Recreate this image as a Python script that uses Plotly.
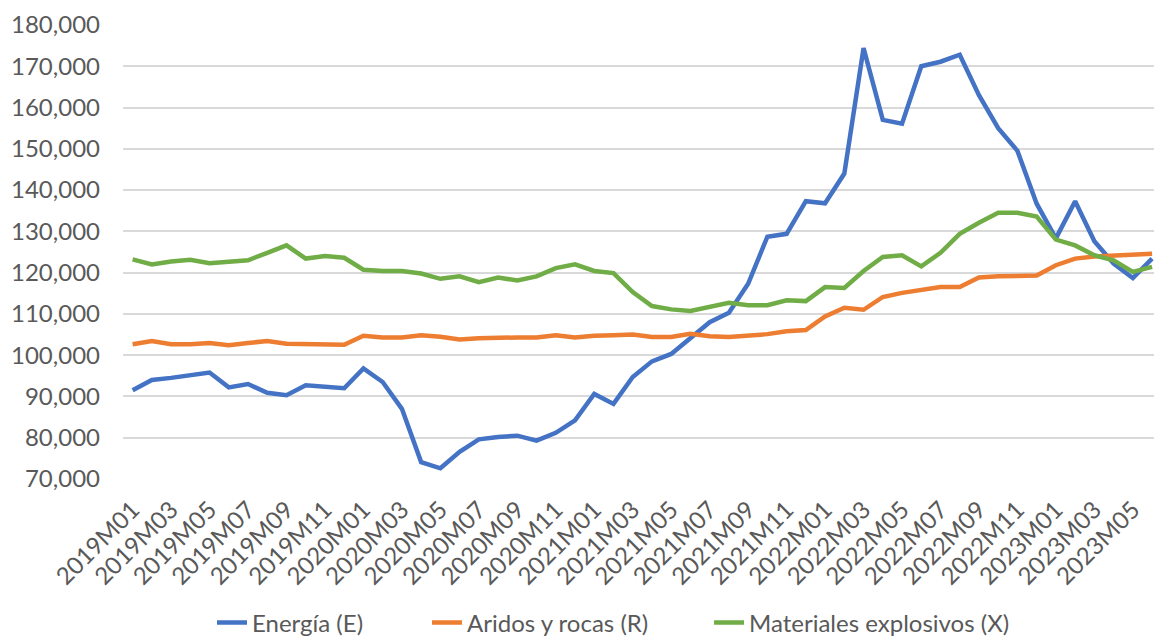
import plotly.graph_objects as go

years = [2019, 2020, 2021, 2022, 2023]
periods = [f"{y}M{m:02d}" for y in years for m in range(1, 13)][:54]

energia = [91500, 94000, 94500, 95200, 95800, 92200, 93000, 90900, 90300, 92700,
           92300, 92000, 96800, 93500, 87000, 74100, 72600, 76600, 79600, 80200,
           80500, 79300, 81200, 84200, 90600, 88200, 94700, 98500, 100300, 104000,
           108000, 110300, 117300, 128700, 129400, 137300, 136800, 144000, 174400, 157000,
           156100, 170000, 171100, 172800, 163000, 155000, 149500, 136700, 128300, 137300,
           127600, 122200, 118700, 123400]

aridos = [102650, 103450, 102650, 102650, 102950, 102400, 102950, 103450, 102800, 102650,
          102650, 102500, 104700, 104300, 104300, 104850, 104450, 103800, 104100, 104300,
          104300, 104300, 104850, 104300, 104700, 104800, 105000, 104400, 104400, 105200,
          104600, 104400, 104700, 105100, 105800, 106100, 109400, 111500, 111000, 114100,
          115100, 115900, 116500, 116500, 118800, 119100, 119100, 119300, 121800, 123400,
          123900, 124100, 124200, 124600]

explosivos = [123200, 122000, 122700, 123100, 122300, 122600, 123000, 124800, 126600, 123400,
              124000, 123600, 120700, 120400, 120400, 119800, 118500, 119100, 117700, 118800,
              118100, 119100, 121100, 122000, 120400, 119900, 115300, 111900, 111100, 110700,
              111700, 112700, 112100, 112100, 113300, 113100, 116500, 116300, 120400, 123800,
              124200, 121500, 124800, 129400, 132100, 134500, 134500, 133600, 128000, 126600,
              124200, 123000, 120200, 121400]

series_names = ["Energía (E)", "Aridos y rocas (R)", "Materiales explosivos (X)"]
series_colors = ["#4472C4", "#ED7D31", "#70AD47"]
tick_labels = periods[::2]

FONT = "Lato"
TXT = "#595959"
W, H = 1154, 637

legend_ids = ["legend", "legend2", "legend3"]
legend_text_x = [255, 470, 752]   # pixel where each legend text begins

fig = go.Figure()
for name, vals, col, lid in zip(series_names, [energia, aridos, explosivos],
                                series_colors, legend_ids):
    fig.add_trace(go.Scatter(x=periods, y=vals, name=name, mode="lines",
                             line=dict(color=col, width=4.5), legend=lid))

legend_common = dict(orientation="h", xref="container", yref="container",
                     xanchor="left", yanchor="middle", y=(H - 623) / H,
                     bgcolor="rgba(0,0,0,0)", borderwidth=0,
                     font=dict(family=FONT, size=24, color=TXT))
legends = {}
for lid, tx in zip(legend_ids, legend_text_x):
    legends[lid] = dict(legend_common, x=(tx - 43) / W)

fig.update_layout(
    width=W, height=H,
    margin=dict(l=123, r=0, t=25, b=158, autoexpand=False),
    paper_bgcolor="white", plot_bgcolor="white",
    font=dict(family=FONT, size=24, color=TXT),
    showlegend=True,
    **legends,
)
fig.update_xaxes(type="category", range=[-0.5, 53.1], tickmode="array",
                 tickvals=tick_labels, ticktext=tick_labels, tickangle=-45,
                 showgrid=False, showline=False, zeroline=False, ticks="",
                 ticklabelstandoff=11, automargin=False,
                 tickfont=dict(family=FONT, size=24, color=TXT))
fig.update_yaxes(range=[70000, 180000], dtick=10000, tick0=70000, tickformat=",",
                 showgrid=True, gridcolor="#D9D9D9", gridwidth=1.5, zeroline=False,
                 showline=False, ticks="", ticklabelstandoff=22, automargin=False,
                 tickfont=dict(family=FONT, size=24, color=TXT))

fig.write_html("out.html", config={"displayModeBar": False},
               post_script="document.body.style.margin='0';document.body.style.overflow='hidden';")
